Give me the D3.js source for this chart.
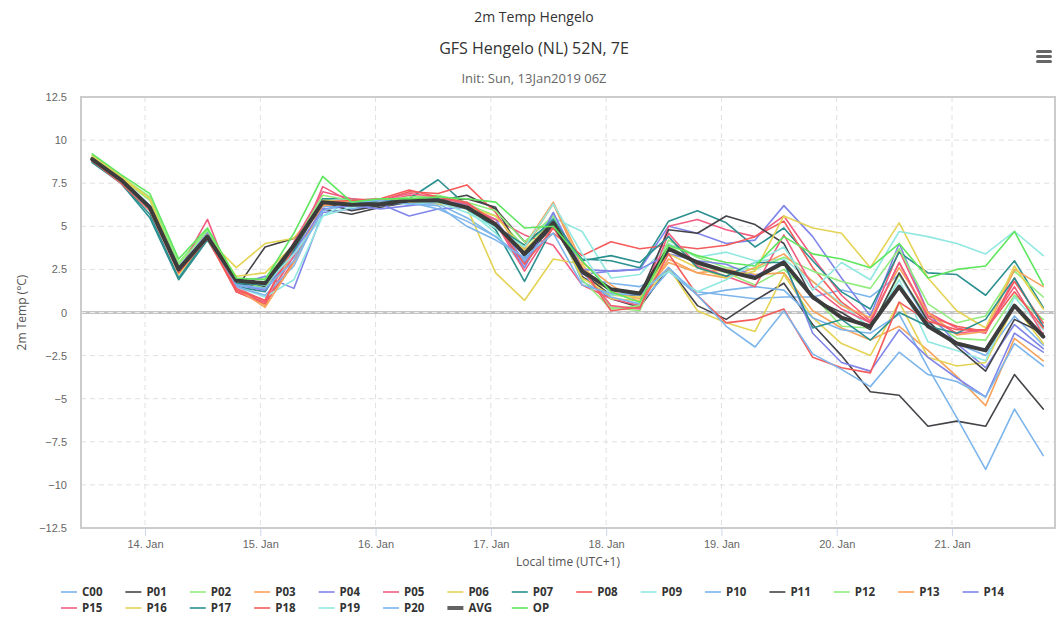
<!DOCTYPE html>
<html>
<head>
<meta charset="utf-8">
<title>2m Temp Hengelo</title>
<script src="https://cdnjs.cloudflare.com/ajax/libs/d3/7.8.5/d3.min.js"></script>
<style>
  body { margin: 0; background: #fff; }
  svg { display: block; font-family: "Open Sans", "DejaVu Sans", sans-serif; }
</style>
</head>
<body>
<script>
// GFS ensemble, 2m temperature (deg C), 6-hourly, first value 13 Jan 13:00 local
var firstTime = Date.UTC(2019, 0, 13, 13);
var stepHours = 6;

var dayTicks = ["14. Jan", "15. Jan", "16. Jan", "17. Jan", "18. Jan", "19. Jan", "20. Jan", "21. Jan"];
var yTicks = [12.5, 10, 7.5, 5, 2.5, 0, -2.5, -5, -7.5, -10, -12.5];

var C00 = [9.0, 7.8, 6.2, 2.6, 4.3, 1.7, 1.3, 3.2, 6.1, 6.5, 6.6, 6.4, 6.3, 5.5, 4.4, 3.1, 5.8, 2.0, 1.7, 1.5, 2.4, 1.2, 1.0, 0.8, 0.9, 0.9, 1.3, 0.9, 2.2, -0.6, -1.8, -2.5, -0.2, -1.9];
var P01 = [8.8, 7.6, 6.0, 2.3, 4.4, 1.4, 3.8, 4.3, 6.0, 5.7, 6.1, 6.4, 6.5, 6.8, 6.0, 4.1, 5.2, 2.1, 0.8, 0.3, 2.6, 0.4, -0.4, 0.7, 1.7, -0.7, -2.5, -4.6, -4.8, -6.6, -6.3, -6.6, -3.6, -5.6];
var P02 = [9.1, 7.9, 6.7, 2.9, 4.8, 1.9, 2.0, 3.9, 6.6, 6.3, 6.4, 6.6, 6.7, 6.3, 5.6, 3.8, 5.4, 2.6, 0.3, 0.1, 3.9, 2.8, 2.3, 1.6, 2.5, 1.0, -0.8, -0.9, 2.2, -0.3, -1.5, -1.6, 1.0, -0.4];
var P03 = [8.9, 7.7, 6.0, 2.5, 4.3, 1.6, 0.4, 3.6, 6.3, 6.2, 6.4, 6.5, 6.4, 6.0, 5.0, 3.9, 6.4, 2.9, 1.6, 0.6, 3.1, 2.3, 2.5, 2.2, 2.3, 0.1, -0.9, -1.6, -0.8, -2.2, -3.7, -5.4, -1.5, -2.8];
var P04 = [8.9, 7.6, 6.1, 2.5, 4.5, 1.6, 2.1, 1.4, 5.8, 6.0, 6.3, 5.6, 6.0, 6.1, 5.4, 2.9, 5.5, 2.2, 2.4, 2.5, 5.0, 4.6, 4.0, 4.2, 6.2, 4.4, 2.0, -0.2, 4.0, 0.0, -1.8, -3.2, -0.7, -2.1];
var P05 = [8.8, 7.6, 6.0, 2.4, 5.4, 1.2, 0.6, 3.3, 7.3, 6.4, 6.4, 6.8, 6.6, 6.2, 5.4, 4.5, 3.9, 1.6, 0.8, 0.4, 5.0, 5.4, 4.8, 4.4, 5.6, 3.2, 1.0, -0.5, 3.6, 0.0, -0.9, -1.2, 2.0, -0.8];
var P06 = [9.1, 7.9, 6.6, 2.2, 4.3, 2.6, 4.0, 4.3, 6.4, 6.5, 6.6, 6.5, 6.3, 6.1, 2.3, 0.7, 3.1, 2.8, 0.8, 0.7, 2.6, 0.1, -0.6, -1.1, 2.2, -0.3, -1.8, -2.5, 0.6, -2.6, -3.1, -2.9, 0.4, -1.8];
var P07 = [8.8, 7.5, 5.5, 1.9, 4.2, 1.5, 1.2, 3.8, 6.6, 6.6, 6.3, 6.6, 7.7, 6.2, 4.8, 1.8, 5.0, 3.1, 3.0, 2.6, 5.3, 5.9, 5.2, 3.8, 4.9, 3.0, 1.2, 0.2, 3.5, 2.3, 2.2, 1.0, 3.0, 0.3];
var P08 = [8.9, 7.6, 6.0, 2.6, 4.3, 1.2, 0.5, 3.0, 6.2, 6.3, 6.5, 7.0, 6.9, 7.4, 5.8, 3.2, 4.6, 3.3, 4.1, 3.7, 3.9, 3.7, 3.9, 4.4, 5.3, 2.6, 0.6, -0.6, 2.9, -0.2, -0.8, -1.1, 1.8, -0.6];
var P09 = [8.9, 7.7, 6.1, 2.4, 4.4, 1.5, 0.9, 1.9, 5.6, 6.5, 6.6, 6.3, 6.4, 6.0, 4.6, 2.6, 5.5, 4.7, 2.0, 2.2, 4.0, 3.2, 3.5, 3.0, 3.1, 1.8, 0.5, -0.9, 1.9, -1.7, -2.2, -2.8, 0.9, -1.0];
var P10 = [8.9, 7.7, 6.2, 2.7, 4.4, 1.5, 1.0, 2.7, 6.2, 6.0, 6.2, 6.4, 6.0, 5.3, 4.4, 3.0, 5.6, 1.8, 0.9, 0.5, 2.4, 1.0, 1.3, 1.5, 1.3, -0.3, -1.0, -1.2, -0.1, -3.2, -6.1, -9.1, -5.6, -8.3];
var P11 = [8.8, 7.6, 6.1, 2.6, 4.4, 1.7, 1.5, 3.7, 6.4, 5.9, 6.2, 6.4, 6.5, 6.6, 6.1, 3.2, 5.0, 2.3, 1.0, 1.0, 4.8, 4.6, 5.6, 5.1, 4.0, 0.8, 0.0, -1.0, 2.3, -0.5, -2.0, -3.4, -0.4, -1.2];
var P12 = [9.0, 7.8, 6.5, 2.8, 4.7, 1.9, 1.4, 4.0, 6.8, 6.5, 6.5, 6.7, 6.8, 6.4, 5.9, 4.1, 5.6, 1.9, 0.2, 0.4, 4.2, 3.2, 2.6, 2.5, 3.2, 2.4, 1.8, 1.4, 3.7, 0.5, -0.6, -0.2, 2.4, 0.9];
var P13 = [8.9, 7.6, 6.1, 2.5, 4.4, 1.4, 0.3, 2.9, 6.2, 6.4, 6.6, 6.6, 6.5, 6.2, 5.0, 3.7, 6.3, 2.6, 1.2, 0.8, 2.9, 2.3, 2.0, 2.6, 3.4, 1.8, 0.4, -0.3, 2.6, 0.0, -1.3, -1.1, 2.5, 1.5];
var P14 = [8.9, 7.7, 6.2, 2.6, 4.6, 1.6, 1.3, 3.5, 6.0, 6.2, 6.0, 6.2, 6.4, 6.3, 5.2, 2.6, 5.8, 2.5, 2.4, 2.5, 3.4, 3.0, 2.8, 2.1, 3.0, -1.2, -2.9, -3.4, -1.0, -2.6, -3.8, -4.9, -1.2, -2.3];
var P15 = [8.8, 7.6, 6.0, 2.5, 4.5, 1.4, 0.7, 4.1, 7.0, 6.6, 6.5, 6.9, 6.7, 6.3, 5.2, 2.4, 5.0, 2.5, 0.4, 0.2, 4.6, 2.7, 2.1, 1.5, 4.5, 1.5, 0.2, -0.6, 2.9, -0.3, -1.2, -1.0, 1.5, -1.3];
var P16 = [9.0, 7.8, 6.6, 2.4, 4.5, 2.1, 2.3, 3.9, 6.5, 6.4, 6.6, 6.4, 6.5, 6.1, 5.6, 3.6, 5.3, 2.0, 1.0, 0.9, 3.4, 2.6, 2.0, 2.4, 5.6, 4.9, 4.6, 2.6, 5.2, 2.0, 0.1, -0.9, 2.7, 0.2];
var P17 = [8.7, 7.5, 5.7, 2.0, 4.3, 1.7, 1.6, 3.6, 6.4, 6.3, 6.5, 6.5, 6.6, 6.0, 5.0, 3.9, 5.4, 3.0, 3.3, 2.9, 4.4, 2.6, 2.1, 2.9, 2.9, -0.9, -0.4, -1.6, 0.0, -0.8, -1.2, -0.4, 2.0, -0.8];
var P18 = [8.8, 7.5, 5.9, 2.3, 4.3, 1.3, 0.7, 3.8, 6.4, 6.5, 6.6, 7.1, 6.7, 6.4, 5.2, 2.8, 4.9, 2.6, 0.1, 0.3, 3.4, 1.0, -0.6, -0.4, 0.2, -2.6, -3.2, -3.5, 0.6, -0.5, -1.0, -1.0, 1.2, -0.9];
var P19 = [8.9, 7.6, 6.0, 2.5, 4.4, 1.9, 1.6, 3.4, 5.6, 6.1, 6.4, 6.3, 6.4, 5.8, 4.9, 3.8, 6.3, 3.4, 1.0, 1.2, 2.4, 1.2, 1.9, 2.9, 3.8, 1.3, 2.9, 1.9, 4.7, 4.4, 4.0, 3.4, 4.7, 3.3];
var P20 = [8.9, 7.7, 6.1, 2.5, 4.4, 1.6, 1.4, 3.0, 5.9, 6.4, 6.5, 6.3, 6.2, 5.0, 4.2, 3.2, 4.6, 1.6, 1.1, 1.0, 2.6, 1.0, -0.8, -2.0, 0.1, -2.4, -3.3, -4.3, -2.3, -3.6, -4.0, -4.9, -1.8, -3.1];
var AVG = [8.9, 7.7, 6.1, 2.5, 4.4, 1.85, 1.7, 3.9, 6.4, 6.25, 6.3, 6.5, 6.5, 6.1, 5.1, 3.4, 5.2, 2.4, 1.35, 1.1, 3.7, 2.9, 2.4, 2.0, 2.9, 0.9, -0.3, -0.8, 1.5, -0.8, -1.8, -2.2, 0.4, -1.4];
var OP = [9.2, 8.0, 6.9, 3.1, 4.9, 2.0, 1.9, 4.6, 7.9, 6.4, 6.6, 6.6, 6.7, 6.6, 6.4, 4.9, 5.0, 3.0, 1.2, 0.6, 3.9, 3.3, 2.9, 2.7, 4.4, 3.4, 3.1, 2.6, 4.0, 2.0, 2.5, 2.7, 4.7, 1.6];

var seriesNames = ["C00", "P01", "P02", "P03", "P04", "P05", "P06", "P07", "P08", "P09", "P10",
                   "P11", "P12", "P13", "P14", "P15", "P16", "P17", "P18", "P19", "P20", "AVG", "OP"];
var seriesValues = [C00, P01, P02, P03, P04, P05, P06, P07, P08, P09, P10,
                    P11, P12, P13, P14, P15, P16, P17, P18, P19, P20, AVG, OP];
var palette = ["#7cb5ec", "#434348", "#90ed7d", "#f7a35c", "#8085e9",
               "#f15c80", "#e4d354", "#2b908f", "#f45b5b", "#91e8e1"];

var W = 1061, H = 620;
var plot = { left: 81, right: 1055, top: 97, bottom: 528 };

var svg = d3.select("body").append("svg")
  .attr("width", W)
  .attr("height", H);

// x: day ticks sit 115.3px apart, 14. Jan at 145
var day = 864e5;
var jan14 = Date.UTC(2019, 0, 14);
var dayPx = (952 - 145) / 7;
var x = d3.scaleUtc()
  .domain([new Date(jan14 - (145 - plot.left) / dayPx * day), new Date(jan14 + (plot.right - 145) / dayPx * day)])
  .range([plot.left, plot.right]);

var y = d3.scaleLinear()
  .domain([-12.5, 12.5])
  .range([plot.bottom, plot.top]);

var times = C00.map(function (d, i) { return new Date(firstTime + i * stepHours * 36e5); });
var dayDates = dayTicks.map(function (d, i) { return new Date(jan14 + i * day); });

// titles
svg.append("text").attr("x", 534).attr("y", 22).attr("text-anchor", "middle")
  .style("font-size", "14px").style("fill", "#333").text("2m Temp Hengelo");
svg.append("text").attr("x", 534).attr("y", 54).attr("text-anchor", "middle")
  .style("font-size", "16px").style("fill", "#333").text("GFS Hengelo (NL) 52N, 7E");
svg.append("text").attr("x", 534).attr("y", 83).attr("text-anchor", "middle")
  .style("font-size", "13px").style("fill", "#666").text("Init: Sun, 13Jan2019 06Z");

// menu button
svg.append("g").selectAll("rect").data([0, 1, 2]).enter().append("rect")
  .attr("x", 1036).attr("y", function (d) { return 50 + d * 5; })
  .attr("width", 16).attr("height", 3).attr("rx", 1.5)
  .attr("fill", "#666");

// grid
var grid = svg.append("g");
grid.selectAll("line.h").data(yTicks).enter().append("line")
  .attr("x1", plot.left).attr("x2", plot.right)
  .attr("y1", function (d) { return y(d); }).attr("y2", function (d) { return y(d); })
  .attr("stroke", "#e0e0e0").attr("stroke-dasharray", "5,4");
grid.selectAll("line.v").data(dayDates).enter().append("line")
  .attr("y1", plot.top).attr("y2", plot.bottom)
  .attr("x1", function (d) { return x(d); }).attr("x2", function (d) { return x(d); })
  .attr("stroke", "#e0e0e0").attr("stroke-dasharray", "5,4");

// zero plot line
svg.append("line")
  .attr("x1", plot.left).attr("x2", plot.right)
  .attr("y1", y(0)).attr("y2", y(0))
  .attr("stroke", "#c4c4c4").attr("stroke-width", 3);
svg.append("line")
  .attr("x1", plot.left).attr("x2", plot.right)
  .attr("y1", y(0)).attr("y2", y(0))
  .attr("stroke", "#eeeeee").attr("stroke-width", 1).attr("stroke-dasharray", "5,4");

// axes
var yAxis = d3.axisLeft(y).tickValues(yTicks).tickSize(0).tickPadding(14)
  .tickFormat(function (d) { return d3.format("")(d).replace("-", "\u2212"); });
svg.append("g").attr("transform", "translate(" + plot.left + ",0)").call(yAxis)
  .call(function (g) { g.select(".domain").remove(); })
  .selectAll("text").style("font-size", "11px").style("fill", "#666").style("font-family", null);

var xAxis = d3.axisBottom(x).tickValues(dayDates).tickSize(8).tickPadding(4)
  .tickFormat(function (d, i) { return dayTicks[i]; });
var xg = svg.append("g").attr("transform", "translate(0," + plot.bottom + ")").call(xAxis)
  .call(function (g) { g.select(".domain").remove(); });
xg.selectAll("line").attr("stroke", "#ccd6eb");
xg.selectAll("text").style("font-size", "11px").style("fill", "#666").style("font-family", null);

svg.append("text").attr("x", (plot.left + plot.right) / 2).attr("y", 566).attr("text-anchor", "middle")
  .style("font-size", "12px").style("fill", "#555").text("Local time (UTC+1)");
svg.append("text").attr("transform", "translate(26," + y(0) + ") rotate(-90)").attr("text-anchor", "middle")
  .style("font-size", "12px").style("fill", "#555").text("2m Temp (\u00b0C)");

// lines
var line = d3.line()
  .x(function (d, i) { return x(times[i]); })
  .y(function (d) { return y(d); });

function colorOf(i) {
  if (seriesNames[i] === "AVG") return "#3c3c3c";
  if (seriesNames[i] === "OP") return "#5ee65e";
  return palette[i % 10];
}

svg.append("g").selectAll("path").data(seriesValues).enter().append("path")
  .attr("d", function (d) { return line(d); })
  .attr("fill", "none")
  .attr("stroke", function (d, i) { return colorOf(i); })
  .attr("stroke-width", function (d, i) { return seriesNames[i] === "AVG" ? 4 : 1.6; })
  .attr("stroke-linejoin", "round")
  .attr("stroke-linecap", "round");

// plot border
svg.append("rect")
  .attr("x", plot.left).attr("y", plot.top)
  .attr("width", plot.right - plot.left).attr("height", plot.bottom - plot.top)
  .attr("fill", "none").attr("stroke", "#cccccc").attr("stroke-width", 2);

// legend, 15 items per row
var legend = svg.append("g");
var item = legend.selectAll("g").data(seriesNames).enter().append("g")
  .attr("transform", function (d, i) {
    return "translate(" + (82 + (i % 15) * 64.4) + "," + (592 + Math.floor(i / 15) * 16) + ")";
  });
item.append("line")
  .attr("x1", -21).attr("x2", -5).attr("y1", 0).attr("y2", 0)
  .attr("stroke", function (d, i) { return colorOf(i); })
  .attr("stroke-opacity", 0.8)
  .attr("stroke-width", function (d) { return d === "AVG" ? 4 : 2; });
item.append("text")
  .attr("y", 4)
  .style("font-size", "11.5px").style("font-weight", "bold").style("fill", "#333")
  .text(function (d) { return d; });
</script>
</body>
</html>
